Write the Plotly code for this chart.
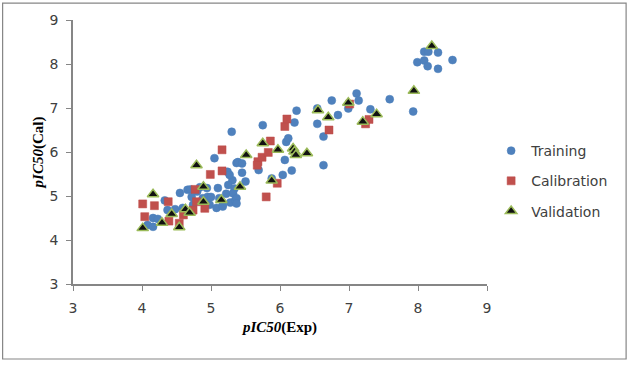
import plotly.graph_objects as go

train_x = [4.08, 4.16, 4.16, 4.23, 4.33, 4.37, 4.48, 4.55, 4.59, 4.62, 4.66, 4.70, 4.72, 4.74,
           4.80, 4.84, 4.88, 4.94, 4.95, 4.98, 5.05, 5.08, 5.10, 5.12, 5.17, 5.22, 5.24, 5.28,
           5.31, 5.35, 5.37, 5.30, 5.39, 5.45, 5.45, 5.27, 5.50, 5.25, 5.34, 5.32, 5.37, 5.37,
           5.17, 5.00,
           5.75, 5.69, 5.88, 6.04, 6.17, 6.07, 6.09, 6.12, 6.21, 6.24, 6.54, 6.54, 6.63, 6.63,
           6.75, 6.84, 6.99, 7.11, 7.14, 7.31, 7.59, 7.93, 8.09, 8.15, 8.29, 7.99, 8.09, 8.14,
           8.29, 8.50]
train_y = [4.34, 4.30, 4.50, 4.48, 4.90, 4.68, 4.70, 5.07, 4.73, 4.65, 5.14, 5.15, 4.98, 4.80,
           5.10, 5.20, 4.95, 5.18, 4.98, 4.80, 5.86, 4.73, 5.18, 4.95, 4.80, 5.05, 5.55, 4.85,
           5.36, 4.90, 5.75, 6.46, 5.77, 5.74, 5.53, 5.48, 5.33, 5.25, 5.17, 5.06, 4.95, 4.83,
           4.76, 4.98,
           6.61, 5.59, 5.40, 5.48, 5.58, 5.82, 6.23, 6.31, 6.67, 6.94, 6.99, 6.64, 6.35, 5.70,
           7.17, 6.84, 6.99, 7.33, 7.17, 6.97, 7.20, 6.92, 8.28, 8.28, 8.26, 8.04, 8.08, 7.95,
           7.89, 8.09]

calib_x = [4.01, 4.04, 4.18, 4.38, 4.39, 4.54, 4.60, 4.74, 4.77, 4.79, 4.91, 4.99, 5.16, 5.16,
           5.68, 5.67, 5.74, 5.83, 5.86, 5.80, 5.96, 6.07, 6.10, 6.71, 7.01, 7.24, 7.29]
calib_y = [4.82, 4.53, 4.78, 4.87, 4.43, 4.38, 4.57, 4.68, 5.15, 4.87, 4.72, 5.49, 6.05, 5.57,
           5.78, 5.70, 5.88, 5.99, 6.25, 4.98, 5.29, 6.58, 6.75, 6.50, 7.09, 6.64, 6.74]

valid_x = [4.01, 4.16, 4.29, 4.43, 4.54, 4.63, 4.69, 4.79, 4.89, 4.89, 5.15, 5.42, 5.51, 5.75,
           5.88, 5.97, 6.19, 6.21, 6.23, 6.39, 6.55, 6.70, 6.99, 7.20, 7.40, 7.94, 8.20]
valid_y = [4.27, 5.04, 4.39, 4.59, 4.29, 4.70, 4.62, 5.70, 5.21, 4.87, 4.91, 5.21, 5.93, 6.20,
           5.35, 6.05, 6.08, 6.01, 5.93, 5.97, 6.95, 6.79, 7.12, 6.69, 6.86, 7.39, 8.41]

tick_vals = [3, 4, 5, 6, 7, 8, 9]

fig = go.Figure()
fig.add_trace(go.Scatter(x=train_x, y=train_y, mode="markers", name="Training", legendgroup="t",
                         marker=dict(symbol="circle", size=8, color="#4F81BD",
                                     line=dict(width=0.5, color="#4A7EBB"))))
fig.add_trace(go.Scatter(x=calib_x, y=calib_y, mode="markers", name="Calibration", legendgroup="c",
                         marker=dict(symbol="square", size=8, color="#C0504D",
                                     line=dict(width=0.5, color="#BE4B48"))))
fig.add_trace(go.Scatter(x=valid_x, y=valid_y, mode="markers", name="Validation", legendgroup="v",
                         marker=dict(symbol="triangle-up", size=10, color="#111111",
                                     line=dict(width=1.5, color="#9BBB59"))))

axis_common = dict(range=[3, 9], tickvals=tick_vals, showgrid=False, zeroline=False,
                   showline=True, linecolor="#868686", linewidth=1.5, automargin=False,
                   ticks="outside", ticklen=5, tickcolor="#868686", ticklabelstandoff=5,
                   tickfont=dict(family="DejaVu Sans", size=14, color="#404040"))

fig.update_xaxes(**axis_common,
                 title=dict(text="<b><i>pIC50</i>(Exp)</b>",
                            font=dict(family="Liberation Serif", size=15, color="#000000"),
                            standoff=7))
fig.update_yaxes(**axis_common,
                 title=dict(text="<b><i>pIC50</i>(Cal)</b>",
                            font=dict(family="Liberation Serif", size=15, color="#000000"),
                            standoff=2))

fig.update_layout(
    width=630, height=379,
    margin=dict(l=73, r=143, t=20, b=95),
    plot_bgcolor="white", paper_bgcolor="white",
    showlegend=True,
    legend=dict(x=1.01, y=0.39, xanchor="left", yanchor="middle",
                font=dict(family="DejaVu Sans", size=14, color="#404040"),
                itemsizing="trace", itemwidth=30, tracegroupgap=9,
                bgcolor="rgba(0,0,0,0)"),
    shapes=[dict(type="rect", xref="paper", yref="paper",
                 x0=-0.170, x1=1.336, y0=-0.284, y1=1.064,
                 line=dict(color="#868686", width=1.2), fillcolor="rgba(0,0,0,0)")],
)

fig.write_html("out.html", config={"responsive": False, "displayModeBar": False},
               post_script="document.body.style.margin='0';document.body.style.overflow='hidden';")
